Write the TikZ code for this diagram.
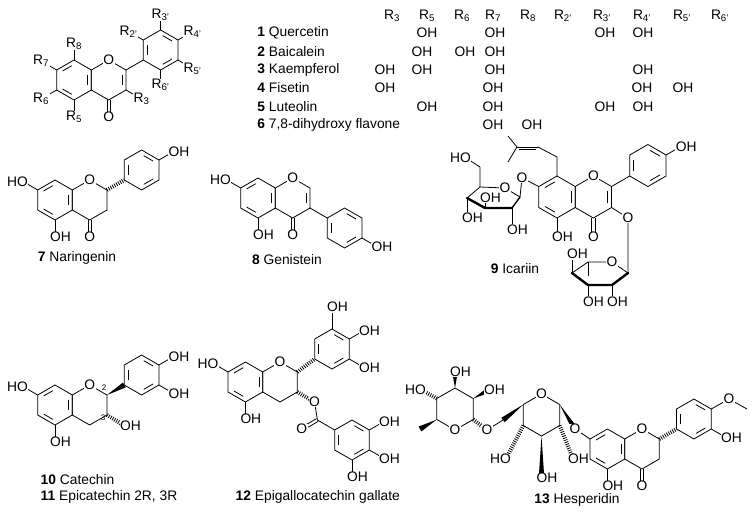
\documentclass[tikz,border=0pt]{standalone}
\usepackage{fontspec}
\setmainfont{Liberation Sans}
\usetikzlibrary{calc}
\newcommand\hexring[3]{%
 \coordinate (#1) at (#2);
 \path (#1) ++(-90:#3) coordinate (#1-1) (#1) ++(-30:#3) coordinate (#1-2)
       (#1) ++(30:#3) coordinate (#1-3) (#1) ++(90:#3) coordinate (#1-4)
       (#1) ++(150:#3) coordinate (#1-5) (#1) ++(210:#3) coordinate (#1-6);
 \draw (#1-1)--(#1-2)--(#1-3)--(#1-4)--(#1-5)--(#1-6)--cycle;}
\newcommand\dbi[3]{\draw[shorten <=2.5pt,shorten >=2.5pt] ($(#1)!0.78!(#2)$) -- ($(#1)!0.78!(#3)$);}
\newcommand\dbo[2]{\draw ($(#1)!1.6pt!90:(#2)$) -- ($(#2)!1.6pt!-90:(#1)$); \draw ($(#1)!1.6pt!-90:(#2)$) -- ($(#2)!1.6pt!90:(#1)$);}
\newcommand\wdg[2]{\fill (#1) -- ($(#2)!2.8pt!90:(#1)$) -- ($(#2)!2.8pt!-90:(#1)$) -- cycle;}
\newcommand\hsh[2]{\draw[line width=4pt, dash pattern=on 0.8pt off 1.4pt] (#1) -- (#2);}
\newcommand\arom[1]{\dbi{#1}{#1-1}{#1-2}\dbi{#1}{#1-3}{#1-4}\dbi{#1}{#1-5}{#1-6}}
\newcommand\aromA[1]{\dbi{#1}{#1-6}{#1-1}\dbi{#1}{#1-2}{#1-3}\dbi{#1}{#1-4}{#1-5}}
\begin{document}
\begin{tikzpicture}[x=1pt,y=-1pt,line width=0.8pt,
  every node/.style={font=\fontsize{13.8}{15}\selectfont},
  lab/.style={fill=white,inner sep=0.5pt},
  oh/.style={lab,anchor=west,xshift=-5.8pt},
  ho/.style={lab,anchor=east,xshift=5.8pt},
  thk/.style={line width=2.4pt,line cap=round},
  small/.style={font=\fontsize{8}{9}\selectfont,inner sep=0.5pt}]
\useasboundingbox (0,0) rectangle (753,515);
\fill[white] (0,0) rectangle (753,515);

% ---------- 1 general flavone ----------
\hexring{aa}{74,80}{20}
\hexring{ca}{108.64,80}{20}
\hexring{ba}{160.6,50}{20}
\draw (ca-2) -- (ba-5);
\aromA{aa}\dbi{ca}{ca-2}{ca-3}\arom{ba}
\coordinate (oa) at ($(ca-4)+(0,17)$);
\dbo{ca-4}{oa}
\node[lab] at (ca-1) {O};
\node[lab] at (oa) {O};
\draw (aa-1) -- ++(-90:16) node[lab]{R\textsubscript{8}};
\draw (aa-6) -- ++(210:18) node[lab]{R\textsubscript{7}};
\draw (aa-5) -- ++(150:18) node[lab]{R\textsubscript{6}};
\draw (aa-4) -- ++(90:17) node[lab]{R\textsubscript{5}};
\draw (ca-3) -- ++(30:18) node[lab]{R\textsubscript{3}};
\draw (ba-6) -- ++(210:17) node[lab]{R\textsubscript{2'}};
\draw (ba-1) -- ++(-90:15) node[lab]{R\textsubscript{3'}};
\draw (ba-2) -- ++(-30:17) node[lab]{R\textsubscript{4'}};
\draw (ba-3) -- ++(30:17) node[lab]{R\textsubscript{5'}};
\draw (ba-4) -- ++(90:15) node[lab]{R\textsubscript{6'}};

% ---------- table ----------
\foreach \x/\t in {392/3,427/5,462/6,493/7,528/8,563/{2'},602/{3'},642/{4'},682/{5'},720/{6'}}
  \node (h\x) at (\x,16) {R\textsubscript{\t}};
\foreach \y/\t [count=\i] in {33/Quercetin,52/Baicalein,70/Kaempferol,88/Fisetin,107/Luteolin,125/{7,8-dihydroxy flavone}}
  \node[anchor=west,inner sep=0pt] (n\i) at (257,\y) {\textbf{\i} \t};
\foreach \x/\y in {427/33,495/33,605/33,643/33,
                   422/52,465/52,495/52,
                   385/70,422/70,495/70,643/70,
                   385/88,493/88,642/88,683/88,
                   427/107,493/107,605/107,643/107,
                   493/125,532/125}
  \node at (\x,\y) {OH};

% ---------- 7 Naringenin ----------
\hexring{a7}{55,200}{20}
\hexring{c7}{89.64,200}{20}
\hexring{b7}{141.6,170}{20}
\hsh{c7-2}{b7-5}
\aromA{a7}\arom{b7}
\coordinate (o7) at ($(c7-4)+(0,17)$);
\dbo{c7-4}{o7}
\node[lab] at (c7-1) {O};
\node[lab] at (o7) {O};
\draw (a7-4) -- ++(90:17) node[oh]{OH};
\draw (a7-6) -- ++(210:17) node[ho]{HO};
\draw (b7-2) -- ++(-30:17) node[oh]{OH};
\node (l7) at (77,258) {\textbf{7} Naringenin};

% ---------- 8 Genistein ----------
\hexring{a8}{258,198}{20}
\hexring{c8}{292.64,198}{20}
\hexring{b8}{344.6,228}{20}
\draw (c8-3) -- (b8-6);
\aromA{a8}\dbi{c8}{c8-2}{c8-3}\arom{b8}
\coordinate (o8) at ($(c8-4)+(0,17)$);
\dbo{c8-4}{o8}
\node[lab] at (c8-1) {O};
\node[lab] at (o8) {O};
\draw (a8-4) -- ++(90:17) node[oh]{OH};
\draw (a8-6) -- ++(210:17) node[ho]{HO};
\draw (b8-3) -- ++(30:17) node[oh]{OH};
\node (l8) at (287,260) {\textbf{8} Genistein};

% ---------- 9 Icariin ----------
\hexring{a9}{557,197}{21}
\hexring{c9}{593.37,197}{21}
\hexring{b9}{647.9,165.5}{21}
\draw (c9-2) -- (b9-5);
\aromA{a9}\dbi{c9}{c9-2}{c9-3}\arom{b9}
\coordinate (o9) at ($(c9-4)+(0,19)$);
\dbo{c9-4}{o9}
\draw (a9-4) -- ++(90:19) node[oh]{OH};
\draw (b9-2) -- ++(-30:17) node[oh]{OH};
% prenyl
\coordinate (p1) at (557,157); \coordinate (p2) at (538,147); \coordinate (p3) at (517,147);
\draw (a9-1) -- (p1) -- (p2);
\draw (p2) -- (p3); \draw[shorten <=2pt,shorten >=2pt] ($(p2)!2.8pt!90:(p3)$) -- ($(p3)!2.8pt!-90:(p2)$);
\draw (p3) -- (508,136); \draw (p3) -- (508,162);
% glucose (Haworth)
\coordinate (go) at (505,188); \coordinate (g1) at (520,197); \coordinate (g2) at (512,208);
\coordinate (g3) at (485,208); \coordinate (g4) at (467,198); \coordinate (g5) at (480,187);
\coordinate (g6) at (480,167);
\coordinate (gO) at (522,178);
\draw (a9-6) -- (gO) -- (g1);
\draw (g4) -- (g5) -- (go) -- (g1);
\draw[line width=1.4pt] (g1) -- (g2);
\draw[thk] (g2) -- (g3) -- (g4);
\draw (g5) -- (g6) -- (466,158) node[ho]{HO};
\draw (g4) -- (467,214) node[oh,anchor=north west,yshift=2pt]{OH};
\draw (g3) -- (485,198) node[oh]{OH};
\draw (g2) -- (512,226) node[oh,anchor=north west,yshift=2pt]{OH};
% rhamnose
\coordinate (rO) at (612,262); \coordinate (r1) at (628,273); \coordinate (r2) at (612,285);
\coordinate (r3) at (588,285); \coordinate (r4) at (572,273); \coordinate (r5) at (588,262);
\coordinate (c9O) at (628,218);
\draw (c9-3) -- (c9O) -- (r1);
\draw (r4) -- (r5) -- (rO) -- (r1);
\draw[thk] (r1) -- (r2) -- (r3) -- (r4);
\draw (r5) -- (588,276);
\draw (r4) -- (572,258) node[oh,anchor=south west,yshift=-2pt]{OH};
\draw (r3) -- (588,298) node[oh,anchor=north west,yshift=2pt]{OH};
\draw (r2) -- (612,298) node[oh,anchor=north west,yshift=2pt]{OH};
\node[lab] at (rO) {O};
\node[lab] at (go) {O};
\node[lab] at (gO) {O};
\node[lab] at (c9O) {O};
\node[lab] at (c9-1) {O};
\node[lab] at (o9) {O};
\node (l9) at (515,269) {\textbf{9} Icariin};

% ---------- 10 Catechin ----------
\hexring{a10}{55,405}{20}
\hexring{c10}{89.64,405}{20}
\hexring{b10}{141.6,375}{20}
\wdg{c10-2}{b10-5}
\aromA{a10}\arom{b10}
\node[lab] at (c10-1) {O};
\draw (a10-4) -- ++(90:17) node[oh]{OH};
\draw (a10-6) -- ++(210:17) node[ho]{HO};
\draw (b10-2) -- ++(-30:17) node[oh]{OH};
\draw (b10-3) -- ++(30:17) node[oh]{OH};
\coordinate (c10oh) at (125,426);
\hsh{c10-3}{c10oh}
\node[oh] at (c10oh) {OH};
\node[small] at (104,388) {2};
\node[small] at (103,418) {3};
\node[anchor=west] (l10) at (37,480) {\textbf{10} Catechin};
\node[anchor=west] (l11) at (37,497) {\textbf{11} Epicatechin 2R, 3R};

% ---------- 12 EGCG ----------
\hexring{a12}{245.4,382}{20}
\hexring{c12}{280,382}{20}
\hexring{b12}{332,349}{20}
\hexring{g12}{352,440}{20}
\hsh{c12-2}{b12-5}
\aromA{a12}\arom{b12}\arom{g12}
\coordinate (oe) at (314.6,402);
\coordinate (cc) at (317.4,420);
\coordinate (oc) at (301.8,429);
\hsh{c12-3}{oe}
\draw (oe) -- (cc) -- (g12-6);
\dbo{cc}{oc}
\node[lab] at (oe) {O};
\node[lab] at (oc) {O};
\node[lab] at (c12-1) {O};
\draw (a12-4) -- ++(90:17) node[oh]{OH};
\draw (a12-6) -- ++(210:17) node[ho]{HO};
\draw (b12-1) -- ++(-90:18) node[oh,anchor=south west,yshift=-2pt]{OH};
\draw (b12-2) -- ++(-30:17) node[oh]{OH};
\draw (b12-3) -- ++(30:17) node[oh]{OH};
\draw (g12-2) -- ++(-30:17) node[oh]{OH};
\draw (g12-3) -- ++(30:17) node[oh]{OH};
\draw (g12-4) -- ++(90:17) node[oh]{OH};
\node[anchor=west] (l12) at (232,497) {\textbf{12} Epigallocatechin gallate};

% ---------- 13 Hesperidin ----------
\hexring{a13}{607.4,449}{20}
\hexring{c13}{642,449}{20}
\hexring{b13}{693.9,419}{20}
\hsh{c13-2}{b13-5}
\aromA{a13}\arom{b13}
\coordinate (o13) at ($(c13-4)+(0,17)$);
\dbo{c13-4}{o13}
\coordinate (o7h) at (575,429);
\draw (a13-6) -- (o7h);
\draw (a13-4) -- ++(90:17) node[oh]{OH};
\coordinate (ome) at (729,399);
\draw (b13-2) -- (ome) -- (747,409);
\draw (b13-3) -- ++(30:17) node[oh]{OH};
\node[lab] at (ome) {O};
% glucose
\hexring{gl}{541.5,415}{21}
\wdg{gl-2}{o7h}
\coordinate (gl3oh) at (573,459);
\hsh{gl-3}{gl3oh}
\coordinate (gl4oh) at (541.5,478);
\wdg{gl-4}{gl4oh}
\coordinate (gl5oh) at (506,459);
\hsh{gl-5}{gl5oh}
\coordinate (ch2) at (503,420);
\coordinate (o6) at (487,430);
\wdg{gl-6}{ch2}
\draw (ch2) -- (o6);
% rhamnose
\hexring{rh}{455,409}{21}
\hsh{rh-3}{o6}
\coordinate (rh1oh) at (455,372);
\wdg{rh-1}{rh1oh}
\coordinate (rh2oh) at (489,390);
\wdg{rh-2}{rh2oh}
\coordinate (rh6oh) at (421,390);
\hsh{rh-6}{rh6oh}
\coordinate (rhme) at (420,429);
\wdg{rh-5}{rhme}
\node[lab] at (o7h) {O};
\node[lab] at (o6) {O};
\node[lab] at (gl-1) {O};
\node[lab] at (rh-4) {O};
\node[lab] at (c13-1) {O};
\node[lab] at (o13) {O};
\node[oh] at (gl3oh) {OH};
\node[oh] at (gl4oh) {OH};
\node[ho] at (gl5oh) {HO};
\node[oh] at (rh1oh) {OH};
\node[oh] at (rh2oh) {OH};
\node[ho] at (rh6oh) {HO};
\node (l13) at (577,500) {\textbf{13} Hesperidin};
\end{tikzpicture}
\end{document}
